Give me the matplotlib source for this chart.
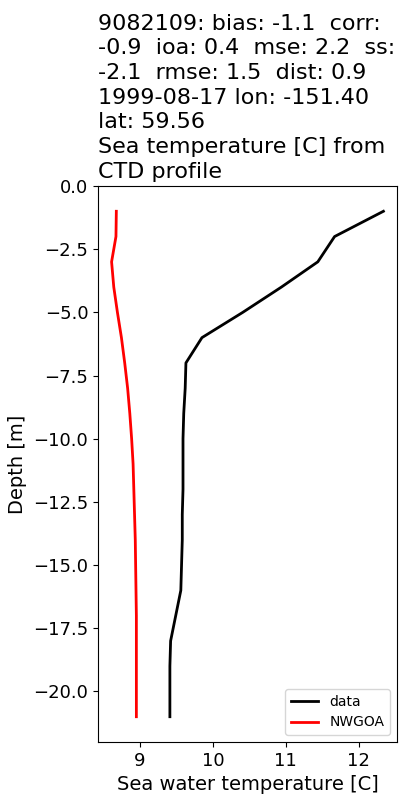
import numpy as np
import matplotlib
matplotlib.use("Agg")
import matplotlib.pyplot as plt

depth = [-1, -2, -3, -4, -5, -6, -7, -8, -9, -10, -11, -12, -13, -14, -15, -16, -17, -18, -19, -20, -21]
temp_data = [12.34, 11.67, 11.44, 10.94, 10.41, 9.85, 9.63, 9.62, 9.60, 9.59, 9.59, 9.59, 9.58, 9.58, 9.57,
             9.56, 9.49, 9.42, 9.41, 9.41, 9.41]
temp_model = [8.675, 8.67, 8.61, 8.64, 8.69, 8.745, 8.79, 8.83, 8.86, 8.885, 8.905, 8.915, 8.925, 8.935, 8.94,
              8.945, 8.95, 8.95, 8.95, 8.95, 8.95]

title = ("9082109: bias: -1.1  corr:\n-0.9  ioa: 0.4  mse: 2.2  ss:\n-2.1  rmse: 1.5  dist: 0.9\n"
         "1999-08-17 lon: -151.40\nlat: 59.56\nSea temperature [C] from\nCTD profile")

fig, ax = plt.subplots(figsize=(4, 8), dpi=100)
fig.subplots_adjust(left=0.245, right=0.9925, bottom=0.0725, top=0.7675)
ax.plot(temp_data, depth, color="black", lw=2, label="data")
ax.plot(temp_model, depth, color="red", lw=2, label="NWGOA")
ax.set_ylim(top=0)
ax.set_title(title, loc="left", fontsize=16, linespacing=1.29)
ax.set_xlabel("Sea water temperature [C]", fontsize=14)
ax.set_ylabel("Depth [m]", fontsize=14)
ax.tick_params(labelsize=13)
ax.legend(loc="lower right", fontsize=10)
plt.savefig("out.png", dpi=100)
